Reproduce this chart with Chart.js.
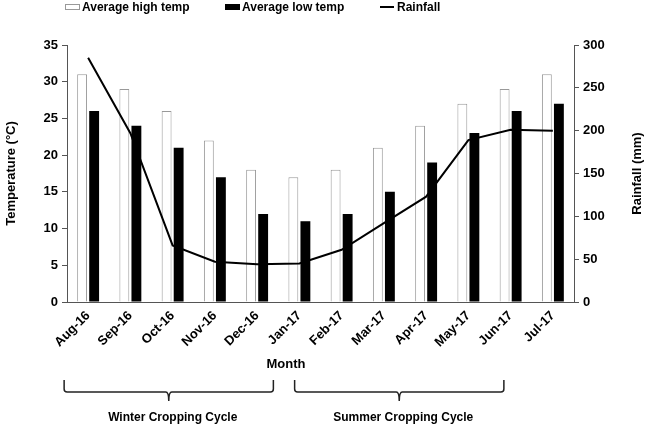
<!DOCTYPE html>
<html>
<head>
<meta charset="utf-8">
<script src="https://cdn.jsdelivr.net/npm/chart.js@4.4.0/dist/chart.umd.min.js"></script>
<style>
  html, body { margin: 0; padding: 0; background: #fff; }
  #wrap { width: 647px; height: 427px; }
</style>
</head>
<body>
<div id="wrap"><canvas id="chart" width="647" height="427"></canvas></div>
<script>
// chart data
const months = ['Aug-16', 'Sep-16', 'Oct-16', 'Nov-16', 'Dec-16', 'Jan-17',
                'Feb-17', 'Mar-17', 'Apr-17', 'May-17', 'Jun-17', 'Jul-17'];
const highTemp = [31, 29, 26, 22, 18, 17, 18, 21, 24, 27, 29, 31];
const lowTemp = [26, 24, 21, 17, 12, 11, 12, 15, 19, 23, 26, 27];
const rainfall = [285, 197, 66, 47, 44, 45, 61, 92, 123, 189, 201, 200];
const cycles = ['Winter Cropping Cycle', 'Summer Cropping Cycle'];

const FONT = 'Liberation Sans, Arial, sans-serif';
Chart.defaults.font.family = FONT;
Chart.defaults.color = '#000';

// legend drawn by hand so item spacing matches the figure
const topLegend = {
    id: 'topLegend',
    afterDraw(chart) {
        const ctx = chart.ctx;
        const ds = chart.data.datasets;
        const items = [
            { d: ds[1], x: 65 },
            { d: ds[2], x: 225 },
            { d: ds[0], x: 380 }
        ];
        ctx.save();
        ctx.font = 'bold 12px ' + FONT;
        ctx.textBaseline = 'middle';
        items.forEach(it => {
            const y = 7;
            if (it.d.type === 'line') {
                ctx.strokeStyle = '#000';
                ctx.lineWidth = 2;
                ctx.beginPath();
                ctx.moveTo(it.x, y);
                ctx.lineTo(it.x + 14, y);
                ctx.stroke();
            } else {
                ctx.fillStyle = it.d.backgroundColor;
                ctx.fillRect(it.x, y - 3, 15, 6);
                ctx.strokeStyle = it.d.borderColor;
                ctx.lineWidth = 1;
                ctx.strokeRect(it.x + 0.5, y - 3 + 0.5, 14, 5);
            }
            ctx.fillStyle = '#000';
            ctx.fillText(it.d.label, it.x + 17, y + 1);
        });
        ctx.restore();
    }
};

// right axis title (reads bottom to top), x title and the cycle brackets
const extras = {
    id: 'extras',
    afterDraw(chart) {
        const ctx = chart.ctx;
        const xs = chart.scales.x;
        const area = chart.chartArea;
        ctx.save();
        ctx.font = 'bold 13px ' + FONT;
        ctx.fillStyle = '#000';
        ctx.textAlign = 'center';
        ctx.textBaseline = 'middle';

        ctx.save();
        ctx.translate(637, (area.top + area.bottom) / 2);
        ctx.rotate(-Math.PI / 2);
        ctx.fillText('Rainfall (mm)', 0, 0);
        ctx.restore();

        ctx.fillText('Month', 286, 364);

        const spans = [
            [xs.getPixelForValue(0) - 24, xs.getPixelForValue(5) - 26],
            [xs.getPixelForValue(6) - 47, xs.getPixelForValue(11) - 49]
        ];
        const yTop = 380, yMid = 392, yTip = 401;
        ctx.strokeStyle = '#222';
        ctx.lineWidth = 1.5;
        ctx.font = 'bold 12px ' + FONT;
        spans.forEach((s, i) => {
            const [a, b] = s;
            const c = (a + b) / 2;
            ctx.beginPath();
            ctx.moveTo(a, yTop);
            ctx.lineTo(a, yMid - 3);
            ctx.quadraticCurveTo(a, yMid, a + 3, yMid);
            ctx.lineTo(c - 3, yMid);
            ctx.quadraticCurveTo(c, yMid, c, yTip);
            ctx.quadraticCurveTo(c, yMid, c + 3, yMid);
            ctx.lineTo(b - 3, yMid);
            ctx.quadraticCurveTo(b, yMid, b, yMid - 3);
            ctx.lineTo(b, yTop);
            ctx.stroke();
            ctx.fillText(cycles[i], c + 4, 418);
        });
        ctx.restore();
    }
};

new Chart(document.getElementById('chart'), {
    type: 'bar',
    data: {
        labels: months,
        datasets: [
            {
                type: 'line',
                label: 'Rainfall',
                data: rainfall,
                yAxisID: 'y2',
                borderColor: '#000',
                borderWidth: 2,
                pointRadius: 0,
                tension: 0,
                fill: false,
                order: 0
            },
            {
                label: 'Average high temp',
                data: highTemp,
                yAxisID: 'y',
                backgroundColor: '#ffffff',
                borderColor: '#999999',
                borderWidth: 1,
                categoryPercentage: 0.57,
                barPercentage: 0.82,
                order: 1
            },
            {
                label: 'Average low temp',
                data: lowTemp,
                yAxisID: 'y',
                backgroundColor: '#000000',
                borderColor: '#000000',
                borderWidth: 0,
                categoryPercentage: 0.57,
                barPercentage: 0.82,
                order: 1
            }
        ]
    },
    options: {
        responsive: false,
        animation: false,
        layout: { padding: { top: 45, bottom: 55, left: 0, right: 0 } },
        plugins: {
            legend: { display: false },
            tooltip: { enabled: false }
        },
        scales: {
            x: {
                grid: { display: false, drawTicks: false },
                border: { color: '#555', width: 1 },
                ticks: {
                    font: { size: 13, weight: 'bold' },
                    maxRotation: 45,
                    minRotation: 45,
                    padding: 6
                },
                afterFit(scale) { scale.height = 70; }
            },
            y: {
                position: 'left',
                min: 0,
                max: 35,
                ticks: { stepSize: 5, font: { size: 13, weight: 'bold' }, padding: 4 },
                grid: { drawOnChartArea: false, tickLength: 5, color: '#555' },
                border: { color: '#555', width: 1 },
                title: {
                    display: true,
                    text: 'Temperature (°C)',
                    font: { size: 13, weight: 'bold' },
                    padding: { top: 4, bottom: 0 }
                },
                afterFit(scale) { scale.width = 67; }
            },
            y2: {
                position: 'right',
                min: 0,
                max: 300,
                ticks: { stepSize: 50, font: { size: 13, weight: 'bold' }, padding: 4 },
                grid: { drawOnChartArea: false, tickLength: 5, color: '#555' },
                border: { color: '#555', width: 1 },
                afterFit(scale) { scale.width = 73; }
            }
        }
    },
    plugins: [topLegend, extras]
});
</script>
</body>
</html>
